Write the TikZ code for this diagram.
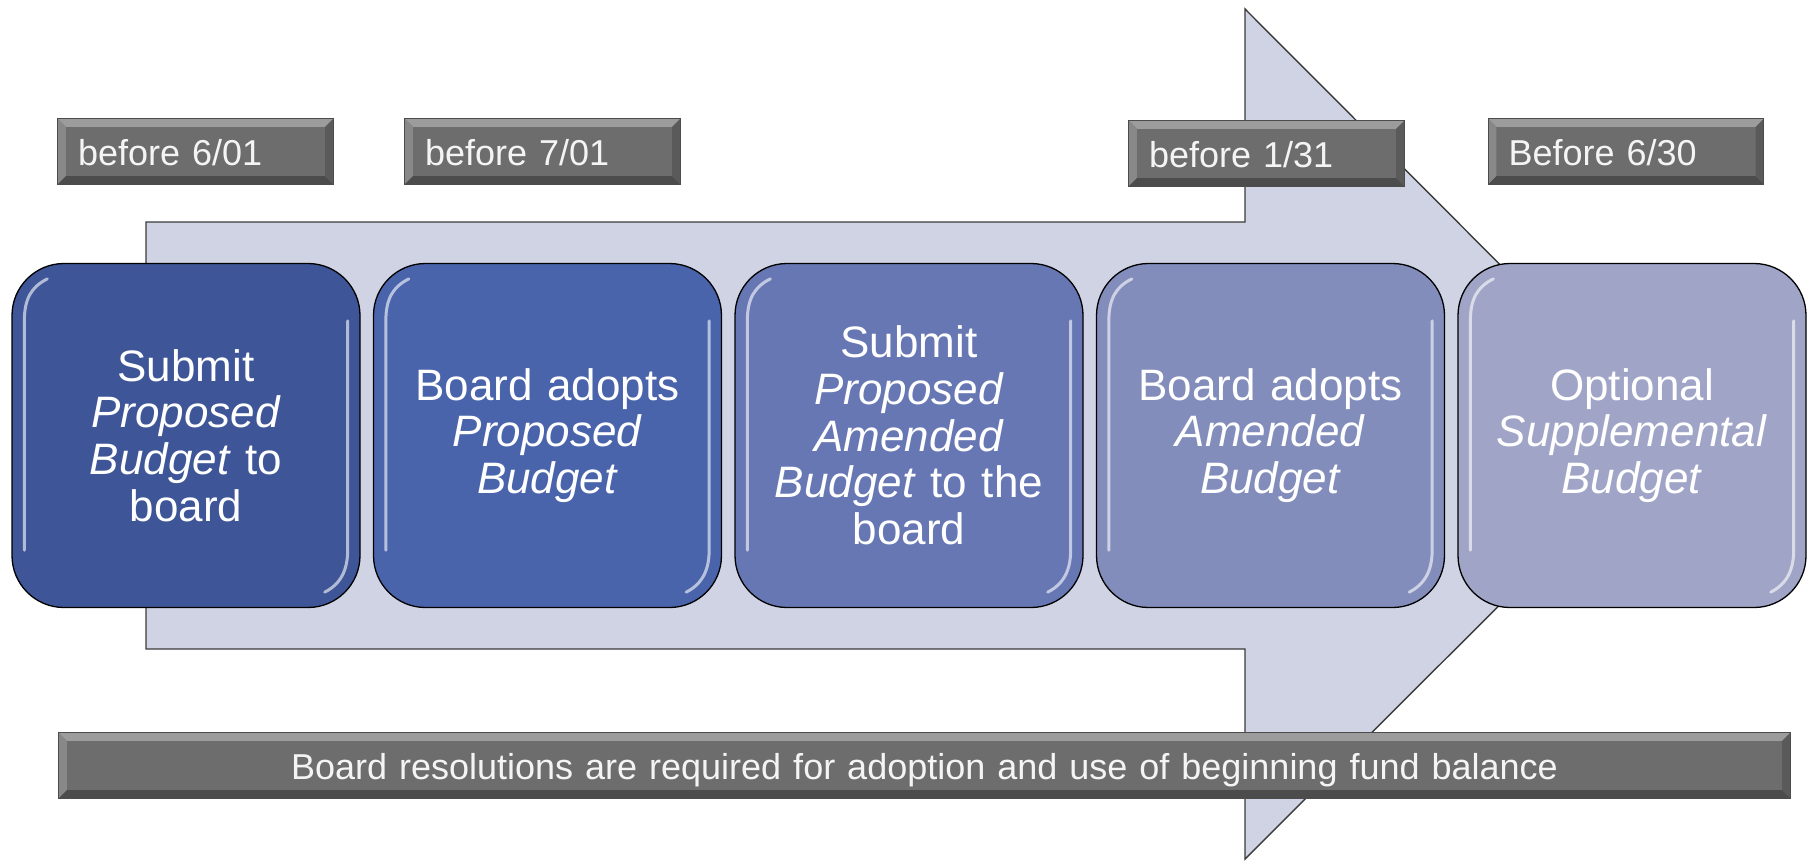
\documentclass[tikz,border=0pt]{standalone}
\usepackage{fontspec}
\setmainfont{Liberation Sans}
\usetikzlibrary{calc}
\definecolor{arrowfill}{HTML}{CFD3E4}
\definecolor{arrowline}{HTML}{3A3A3A}
\definecolor{cA}{HTML}{3E5597}
\definecolor{cB}{HTML}{4A64AB}
\definecolor{cC}{HTML}{6777B4}
\definecolor{cD}{HTML}{828DBB}
\definecolor{cE}{HTML}{A0A5C7}
\definecolor{lblmid}{HTML}{6D6D6D}
\definecolor{bevtop}{HTML}{9C9C9C}
\definecolor{bevleft}{HTML}{888888}
\definecolor{bevbot}{HTML}{4C4C4C}
\definecolor{bevright}{HTML}{5A5A5A}
\definecolor{lbltext}{HTML}{F4F4F4}
\tikzset{
  stepbox/.style={draw=black, line width=1.3pt, rounded corners=52pt,
    minimum width=348pt, minimum height=344pt, inner sep=0pt,
    text width=340pt, align=center, text=white,
    font=\fontsize{44}{46.7}\selectfont},
  datebox/.style={fill=lblmid, inner sep=0pt, inner xsep=20pt,
    minimum height=65pt, text height=27pt, text depth=0pt,
    text=lbltext, font=\fontsize{36}{40}\selectfont},
  shortdate/.style={datebox, text width=235pt, align=left},
  longbar/.style={datebox, text width=1691pt, align=center},
  gloss/.style={draw=white, opacity=0.6, line width=3pt, line cap=round},
  flowarrow/.style={fill=arrowfill, draw=arrowline, line width=1.4pt, line join=miter}
}
\begin{document}
\begin{tikzpicture}[x=1pt,y=-1pt]
\useasboundingbox (0,0) rectangle (1814,860);

% big background arrow
\coordinate (aTL) at (146,222);
\coordinate (aNT) at (1245,222);
\coordinate (aHT) at (1245,9);
\coordinate (aTip) at (1670,435);
\coordinate (aHB) at (1245,859);
\coordinate (aNB) at (1245,649);
\coordinate (aBL) at (146,649);
\draw[flowarrow] (aTL) -- (aNT) -- (aHT) -- (aTip) -- (aHB) -- (aNB) -- (aBL) -- cycle;

% step boxes
\node[stepbox, fill=cA] (s1) at (186,435.5) {Submit\\\textit{Proposed}\\\textit{Budget} to\\board};
\node[stepbox, fill=cB] (s2) at (547.5,435.5) {Board adopts\\\textit{Proposed}\\\textit{Budget}};
\node[stepbox, fill=cC] (s3) at (909,435.5) {Submit\\\textit{Proposed}\\\textit{Amended}\\\textit{Budget} to the\\board};
\node[stepbox, fill=cD] (s4) at (1270.5,435.5) {Board adopts\\\textit{Amended}\\\textit{Budget}};
\node[stepbox, fill=cE] (s5) at (1632,435.5) {Optional\\\textit{Supplemental}\\\textit{Budget}};

\foreach \n in {s1,s2,s3,s4,s5}{
  \draw[gloss] ($(\n.north west)+(36,16)$) .. controls ($(\n.north west)+(20,24)$) and ($(\n.north west)+(13,36)$) .. ($(\n.north west)+(13,58)$) -- ($(\n.south west)+(13,-58)$);
  \draw[gloss] ($(\n.north east)+(-13,58)$) -- ($(\n.south east)+(-13,-58)$) .. controls ($(\n.south east)+(-13,-38)$) and ($(\n.south east)+(-20,-24)$) .. ($(\n.south east)+(-36,-16)$);
}

% date labels
\node[shortdate] (d1) at (195.5,151.5) {before 6/01};
\node[shortdate] (d2) at (542.5,151.5) {before 7/01};
\node[shortdate] (d3) at (1266.5,153.5) {before 1/31};
\node[shortdate] (d4) at (1626,151.5) {Before 6/30};
\node[longbar] (bar) at (924.5,765.5) {Board resolutions are required for adoption and use of beginning fund balance};

\foreach \n in {d1,d2,d3,d4,bar}{
  \fill[bevtop] (\n.north west) -- (\n.north east) -- ($(\n.north east)+(-8,8)$) -- ($(\n.north west)+(8,8)$) -- cycle;
  \fill[bevleft] (\n.north west) -- ($(\n.north west)+(8,8)$) -- ($(\n.south west)+(8,-8)$) -- (\n.south west) -- cycle;
  \fill[bevbot] (\n.south west) -- ($(\n.south west)+(8,-8)$) -- ($(\n.south east)+(-8,-8)$) -- (\n.south east) -- cycle;
  \fill[bevright] (\n.north east) -- (\n.south east) -- ($(\n.south east)+(-8,-8)$) -- ($(\n.north east)+(-8,8)$) -- cycle;
  \draw[bevbot, line width=0.8pt] (\n.north west) rectangle (\n.south east);
}
\end{tikzpicture}
\end{document}
